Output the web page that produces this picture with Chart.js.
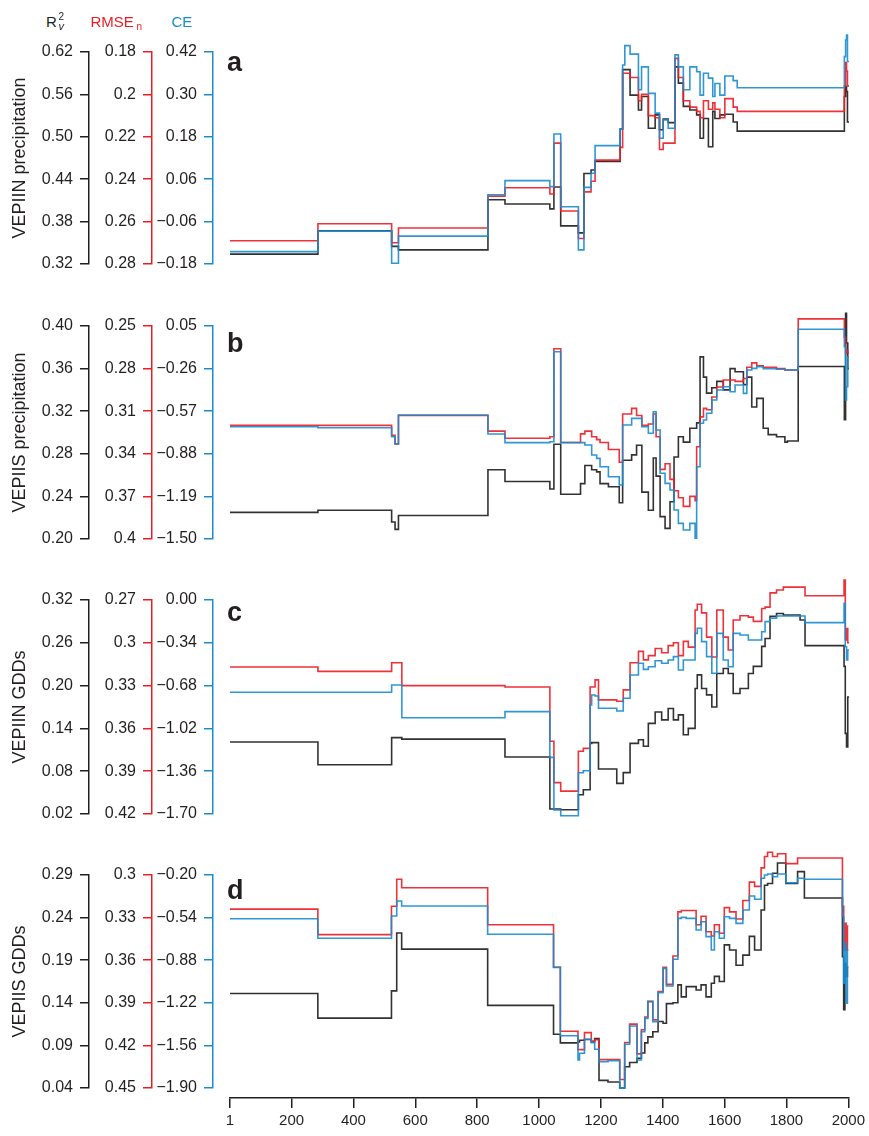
<!DOCTYPE html>
<html>
<head>
<meta charset="utf-8">
<title>Verification statistics</title>
<script src="https://cdn.jsdelivr.net/npm/chart.js@4.4.1/dist/chart.umd.min.js"></script>
<style>
  html, body { margin: 0; padding: 0; background: #fff; }
  #fig { position: relative; width: 869px; height: 1136px; overflow: hidden;
         font-family: 'Liberation Sans', Arial, Helvetica, sans-serif; color: #231f20; }
  #fig canvas { position: absolute; left: 0; }
  .t { position: absolute; line-height: 1; white-space: nowrap; z-index: 2; }
  .lbl { font-weight: bold; font-size: 27px; }
</style>
</head>
<body>
<div id="fig">
  <!-- statistic key above the axes -->
  <div class="t" style="left:46px; top:14px; font-size:15px;">R</div>
  <div class="t" style="left:58.5px; top:11.5px; font-size:10px;">2</div>
  <div class="t" style="left:58.5px; top:20.7px; font-size:11px; font-style:italic;">v</div>
  <div class="t" style="left:90.5px; top:14px; font-size:15px; color:#ed1c24;">RMSE</div>
  <div class="t" style="left:136.5px; top:21.5px; font-size:10px; color:#ed1c24;">n</div>
  <div class="t" style="left:171.5px; top:14px; font-size:15px; color:#1a8ccf;">CE</div>

  <canvas id="panelA" width="869" height="260" style="top:30px"></canvas>
  <canvas id="panelB" width="869" height="260" style="top:300px"></canvas>
  <canvas id="panelC" width="869" height="262" style="top:572px"></canvas>
  <canvas id="panelD" width="869" height="291" style="top:845px"></canvas>

  <div class="t lbl" style="left:227px; top:48.8px;">a</div>
  <div class="t lbl" style="left:227px; top:330px;">b</div>
  <div class="t lbl" style="left:227px; top:599px;">c</div>
  <div class="t lbl" style="left:227px; top:877px;">d</div>
</div>

<script>
// ---- shared x axis ----
const xTickLabels = ['1', '200', '400', '600', '800', '1000', '1200', '1400', '1600', '1800', '2000'];

// ---- a: VEPIIN precipitation ----
const yearsA = [1, 285, 523, 545, 834, 889, 1034, 1047, 1069, 1126, 1144, 1167, 1180, 1261, 1269, 1276, 1293, 1320, 1330, 1352,
  1374, 1388, 1400, 1416, 1438, 1449, 1465, 1486, 1508, 1519, 1530, 1546, 1560, 1567, 1583, 1599, 1626, 1639, 1985, 1989,
  1992, 1995, 2000];
const r2A = [0.334, 0.367, 0.345, 0.340, 0.411, 0.405, 0.398, 0.429, 0.374, 0.364, 0.448, 0.453, 0.465, 0.511, 0.595, 0.595, 0.559, 0.538, 0.557, 0.512,
  0.531, 0.510, 0.525, 0.520, 0.599, 0.576, 0.543, 0.538, 0.531, 0.498, 0.526, 0.486, 0.536, 0.526, 0.531, 0.532, 0.521, 0.508, 0.557, 0.571,
  0.564, 0.521, 0.521];
const rmseA = [0.269, 0.261, 0.270, 0.263, 0.248, 0.244, 0.247, 0.223, 0.255, 0.268, 0.246, 0.241, 0.231, 0.225, 0.190, 0.190, 0.192, 0.203, 0.200, 0.210,
  0.211, 0.226, 0.223, 0.223, 0.183, 0.192, 0.203, 0.206, 0.208, 0.211, 0.203, 0.207, 0.204, 0.207, 0.211, 0.202, 0.206, 0.208, 0.196, 0.185,
  0.189, 0.196, 0.196];
const ceA = [-0.145, -0.087, -0.178, -0.101, 0.016, 0.056, 0.039, 0.188, -0.018, -0.140, 0.037, 0.077, 0.155, 0.202, 0.383, 0.438, 0.414, 0.313, 0.378, 0.303,
  0.247, 0.176, 0.228, 0.204, 0.412, 0.378, 0.313, 0.378, 0.364, 0.298, 0.360, 0.346, 0.294, 0.331, 0.298, 0.352, 0.339, 0.319, 0.407, 0.454,
  0.468, 0.393, 0.393];
const r2TicksA = ['0.62', '0.56', '0.50', '0.44', '0.38', '0.32'];
const rmseTicksA = ['0.18', '0.2', '0.22', '0.24', '0.26', '0.28'];
const ceTicksA = ['0.42', '0.30', '0.18', '0.06', '\u22120.06', '\u22120.18'];

// ---- b: VEPIIS precipitation ----
const yearsB = [1, 285, 523, 534, 545, 834, 889, 1034, 1047, 1069, 1133, 1147, 1169, 1185, 1196, 1223, 1258, 1269, 1298, 1314,
  1331, 1352, 1368, 1377, 1390, 1406, 1422, 1435, 1449, 1465, 1486, 1503, 1508, 1519, 1530, 1540, 1557, 1573, 1594, 1616,
  1632, 1659, 1670, 1686, 1702, 1723, 1739, 1766, 1793, 1801, 1836, 1985, 1989, 1992, 1996, 2000];
const r2B = [0.225, 0.227, 0.216, 0.209, 0.222, 0.265, 0.254, 0.247, 0.289, 0.242, 0.252, 0.269, 0.265, 0.263, 0.252, 0.249, 0.234, 0.274, 0.279, 0.288,
  0.244, 0.227, 0.276, 0.259, 0.221, 0.210, 0.235, 0.277, 0.296, 0.291, 0.304, 0.304, 0.309, 0.371, 0.352, 0.337, 0.342, 0.348, 0.340, 0.360,
  0.357, 0.345, 0.352, 0.324, 0.332, 0.304, 0.298, 0.296, 0.291, 0.292, 0.362, 0.312, 0.412, 0.384, 0.360, 0.360];
const rmseB = [0.320, 0.320, 0.327, 0.333, 0.313, 0.324, 0.329, 0.328, 0.266, 0.332, 0.326, 0.324, 0.328, 0.330, 0.332, 0.337, 0.346, 0.312, 0.308, 0.313,
  0.320, 0.319, 0.312, 0.328, 0.351, 0.347, 0.358, 0.366, 0.371, 0.377, 0.370, 0.373, 0.335, 0.314, 0.308, 0.309, 0.300, 0.293, 0.288, 0.288,
  0.289, 0.287, 0.279, 0.276, 0.278, 0.279, 0.279, 0.280, 0.281, 0.281, 0.245, 0.258, 0.269, 0.267, 0.269, 0.269];
const ceB = [-0.683, -0.690, -0.756, -0.809, -0.598, -0.736, -0.799, -0.792, -0.137, -0.799, -0.799, -0.816, -0.889, -0.913, -0.974, -1.047, -1.107, -0.670, -0.622, -0.622,
  -0.683, -0.731, -0.574, -0.707, -1.022, -1.095, -1.143, -1.289, -1.386, -1.434, -1.386, -1.495, -0.974, -0.658, -0.634, -0.585, -0.489, -0.416, -0.392, -0.428,
  -0.379, -0.440, -0.270, -0.258, -0.246, -0.261, -0.261, -0.265, -0.270, -0.270, 0.026, -0.101, -0.489, -0.392, -0.173, -0.173];
const r2TicksB = ['0.40', '0.36', '0.32', '0.28', '0.24', '0.20'];
const rmseTicksB = ['0.25', '0.28', '0.31', '0.34', '0.37', '0.4'];
const ceTicksB = ['0.05', '\u22120.26', '\u22120.57', '\u22120.88', '\u22121.19', '\u22121.50'];

// ---- c: VEPIIN GDDs ----
const yearsC = [1, 285, 523, 556, 889, 1034, 1047, 1069, 1126, 1142, 1164, 1169, 1180, 1191, 1250, 1271, 1293, 1320, 1336, 1352,
  1374, 1395, 1416, 1433, 1449, 1465, 1481, 1503, 1510, 1524, 1540, 1557, 1573, 1594, 1610, 1626, 1648, 1675, 1691, 1718,
  1729, 1745, 1766, 1788, 1842, 1858, 1984, 1988, 1992, 1996, 2000];
const r2C = [0.121, 0.089, 0.127, 0.125, 0.100, 0.027, 0.027, 0.026, 0.047, 0.054, 0.119, 0.120, 0.120, 0.083, 0.063, 0.078, 0.119, 0.124, 0.115, 0.147,
  0.163, 0.152, 0.168, 0.152, 0.159, 0.131, 0.140, 0.196, 0.215, 0.196, 0.187, 0.170, 0.217, 0.224, 0.217, 0.189, 0.196, 0.217, 0.227, 0.255,
  0.266, 0.297, 0.301, 0.299, 0.292, 0.256, 0.227, 0.133, 0.114, 0.184, 0.184];
const rmseC = [0.317, 0.320, 0.314, 0.330, 0.331, 0.369, 0.398, 0.404, 0.376, 0.374, 0.331, 0.331, 0.326, 0.340, 0.341, 0.333, 0.314, 0.306, 0.312, 0.309,
  0.304, 0.307, 0.302, 0.300, 0.309, 0.299, 0.303, 0.277, 0.273, 0.279, 0.296, 0.310, 0.277, 0.296, 0.305, 0.284, 0.281, 0.282, 0.285, 0.276,
  0.275, 0.265, 0.263, 0.261, 0.261, 0.267, 0.256, 0.298, 0.290, 0.300, 0.300];
const ceC = [-0.733, -0.733, -0.675, -0.935, -0.887, -1.250, -1.668, -1.714, -1.372, -1.356, -0.834, -0.755, -0.763, -0.860, -0.882, -0.781, -0.596, -0.503, -0.551, -0.530,
  -0.482, -0.503, -0.477, -0.450, -0.556, -0.477, -0.477, -0.265, -0.225, -0.331, -0.450, -0.582, -0.265, -0.477, -0.530, -0.265, -0.278, -0.318, -0.318, -0.252,
  -0.172, -0.145, -0.127, -0.127, -0.127, -0.180, -0.026, -0.371, -0.477, -0.397, -0.397];
const r2TicksC = ['0.32', '0.26', '0.20', '0.14', '0.08', '0.02'];
const rmseTicksC = ['0.27', '0.3', '0.33', '0.36', '0.39', '0.42'];
const ceTicksC = ['0.00', '\u22120.34', '\u22120.68', '\u22121.02', '\u22121.36', '\u22121.70'];

// ---- d: VEPIIS GDDs ----
const yearsD = [1, 285, 523, 540, 556, 834, 1047, 1069, 1126, 1131, 1147, 1169, 1180, 1194, 1223, 1261, 1277, 1293, 1317, 1331,
  1342, 1352, 1368, 1385, 1401, 1412, 1433, 1449, 1460, 1476, 1508, 1524, 1540, 1557, 1567, 1583, 1599, 1616, 1637, 1659,
  1680, 1697, 1718, 1729, 1739, 1755, 1771, 1798, 1836, 1858, 1981, 1985, 1989, 1993, 1997, 2000];
const r2D = [0.151, 0.122, 0.154, 0.222, 0.203, 0.137, 0.103, 0.093, 0.094, 0.096, 0.097, 0.094, 0.098, 0.049, 0.047, 0.040, 0.065, 0.070, 0.075, 0.081,
  0.093, 0.100, 0.106, 0.118, 0.116, 0.139, 0.140, 0.161, 0.147, 0.159, 0.155, 0.161, 0.147, 0.163, 0.171, 0.165, 0.208, 0.202, 0.184, 0.196,
  0.218, 0.202, 0.249, 0.278, 0.280, 0.292, 0.304, 0.280, 0.294, 0.263, 0.194, 0.132, 0.186, 0.171, 0.182, 0.182];
const rmseD = [0.324, 0.342, 0.322, 0.303, 0.309, 0.335, 0.365, 0.410, 0.423, 0.423, 0.411, 0.417, 0.416, 0.430, 0.430, 0.444, 0.418, 0.405, 0.426, 0.409,
  0.400, 0.389, 0.402, 0.382, 0.365, 0.377, 0.357, 0.326, 0.325, 0.325, 0.335, 0.329, 0.340, 0.343, 0.335, 0.341, 0.323, 0.326, 0.331, 0.318,
  0.305, 0.308, 0.295, 0.287, 0.284, 0.287, 0.285, 0.292, 0.288, 0.288, 0.322, 0.353, 0.334, 0.353, 0.336, 0.336];
const ceD = [-0.549, -0.705, -0.527, -0.408, -0.447, -0.673, -0.937, -1.483, -1.677, -1.623, -1.511, -1.538, -1.591, -1.690, -1.682, -1.902, -1.551, -1.405, -1.677, -1.451,
  -1.344, -1.211, -1.371, -1.139, -0.945, -1.086, -0.873, -0.546, -0.538, -0.546, -0.639, -0.573, -0.692, -0.799, -0.653, -0.705, -0.533, -0.546, -0.586, -0.479,
  -0.368, -0.394, -0.226, -0.200, -0.192, -0.214, -0.192, -0.262, -0.226, -0.234, -0.533, -1.064, -0.745, -1.224, -0.799, -0.799];
const r2TicksD = ['0.29', '0.24', '0.19', '0.14', '0.09', '0.04'];
const rmseTicksD = ['0.3', '0.33', '0.36', '0.39', '0.42', '0.45'];
const ceTicksD = ['\u22120.20', '\u22120.54', '\u22120.88', '\u22121.22', '\u22121.56', '\u22121.90'];

// ---- styling ----
const INK = '#231f20';
const RED = '#ed1c24';
const BLUE = '#1a8ccf';
const LINE_INK = 'rgba(35,31,32,0.92)';
const LINE_RED = 'rgba(237,28,36,0.9)';
const LINE_BLUE = 'rgba(26,140,207,0.9)';
const FONT = "'Liberation Sans', Arial, Helvetica, sans-serif";

Chart.defaults.font.family = FONT;
Chart.defaults.color = INK;

const toNum = s => parseFloat(s.replace('\u2212', '-'));

// One left-hand y axis, bracketed from first to last tick.
function yAxis(labels, color, weight, width, reverse, title) {
  const vals = labels.map(toNum);
  const ax = {
    type: 'linear',
    position: 'left',
    weight: weight,
    reverse: reverse,
    min: Math.min(...vals),
    max: Math.max(...vals),
    afterBuildTicks: s => { s.ticks = vals.map(v => ({ value: v })); },
    afterFit: s => { s.width = width; },
    ticks: {
      autoSkip: false,
      padding: 7,
      color: INK,
      font: { size: 16 },
      callback: (v, i) => labels[i]
    },
    grid: { drawOnChartArea: false, drawTicks: true, tickLength: 9, color: color, tickColor: color, lineWidth: 1.5 },
    border: { display: true, color: color, width: 1.5 }
  };
  if (title) {
    ax.title = { display: true, text: title, color: INK, font: { size: 18 }, padding: { top: 9, bottom: 0 } };
  }
  return ax;
}

function series(years, vals, axisId, color) {
  return {
    data: years.map((x, i) => ({ x: x, y: vals[i] })),
    yAxisID: axisId,
    borderColor: color,
    borderWidth: 1.6,
    pointRadius: 0,
    stepped: 'before',
    tension: 0,
    clip: false,
    fill: false
  };
}

function panel(id, p) {
  const scales = {
    x: {
      type: 'linear', position: 'bottom', weight: 1, min: 1, max: 2000,
      display: p.showX,
      afterBuildTicks: s => { s.ticks = xTickLabels.map(l => ({ value: +l })); },
      afterFit: s => { s.height = p.showX ? 36 : 0; },
      ticks: { autoSkip: false, maxRotation: 0, padding: 4, color: INK, font: { size: 15 },
               callback: (v, i) => xTickLabels[i] },
      grid: { drawOnChartArea: false, drawTicks: true, tickLength: 10, color: INK, lineWidth: 1.5 },
      border: { display: true, color: INK, width: 1.5 }
    },
    yK: yAxis(p.r2Ticks, INK, 3, 89, false, p.title),
    yR: yAxis(p.rmseTicks, RED, 2, 63, true, null),
    yC: yAxis(p.ceTicks, BLUE, 1, 61, false, null),
    // empty strip between the blue axis and the plotting region
    yGap: {
      type: 'linear', position: 'left', weight: 0, display: true,
      grid: { display: false }, ticks: { display: false }, border: { display: false },
      afterFit: s => { s.width = 17; }
    }
  };
  if (p.showX) {
    // empty strip between the plotting region and the year axis
    scales.xGap = {
      type: 'linear', position: 'bottom', weight: 0, display: true,
      grid: { display: false }, ticks: { display: false }, border: { display: false },
      afterFit: s => { s.height = 10; }
    };
  }
  return new Chart(document.getElementById(id), {
    type: 'line',
    data: {
      datasets: [
        series(p.years, p.ce, 'yC', LINE_BLUE),
        series(p.years, p.rmse, 'yR', LINE_RED),
        series(p.years, p.r2, 'yK', LINE_INK)
      ]
    },
    options: {
      responsive: false,
      animation: false,
      devicePixelRatio: 1,
      layout: { padding: p.padding },
      plugins: { legend: { display: false }, tooltip: { enabled: false } },
      events: [],
      scales: scales
    }
  });
}

panel('panelA', {
  years: yearsA, r2: r2A, rmse: rmseA, ce: ceA,
  r2Ticks: r2TicksA, rmseTicks: rmseTicksA, ceTicks: ceTicksA,
  title: 'VEPIIN precipitation', showX: false,
  padding: { left: 0, right: 20, top: 22, bottom: 26 }
});
panel('panelB', {
  years: yearsB, r2: r2B, rmse: rmseB, ce: ceB,
  r2Ticks: r2TicksB, rmseTicks: rmseTicksB, ceTicks: ceTicksB,
  title: 'VEPIIS precipitation', showX: false,
  padding: { left: 0, right: 20, top: 26, bottom: 21 }
});
panel('panelC', {
  years: yearsC, r2: r2C, rmse: rmseC, ce: ceC,
  r2Ticks: r2TicksC, rmseTicks: rmseTicksC, ceTicks: ceTicksC,
  title: 'VEPIIN GDDs', showX: false,
  padding: { left: 0, right: 20, top: 28, bottom: 20 }
});
panel('panelD', {
  years: yearsD, r2: r2D, rmse: rmseD, ce: ceD,
  r2Ticks: r2TicksD, rmseTicks: rmseTicksD, ceTicks: ceTicksD,
  title: 'VEPIIS GDDs', showX: true,
  padding: { left: 0, right: 20, top: 30, bottom: 2 }
});
</script>
</body>
</html>
